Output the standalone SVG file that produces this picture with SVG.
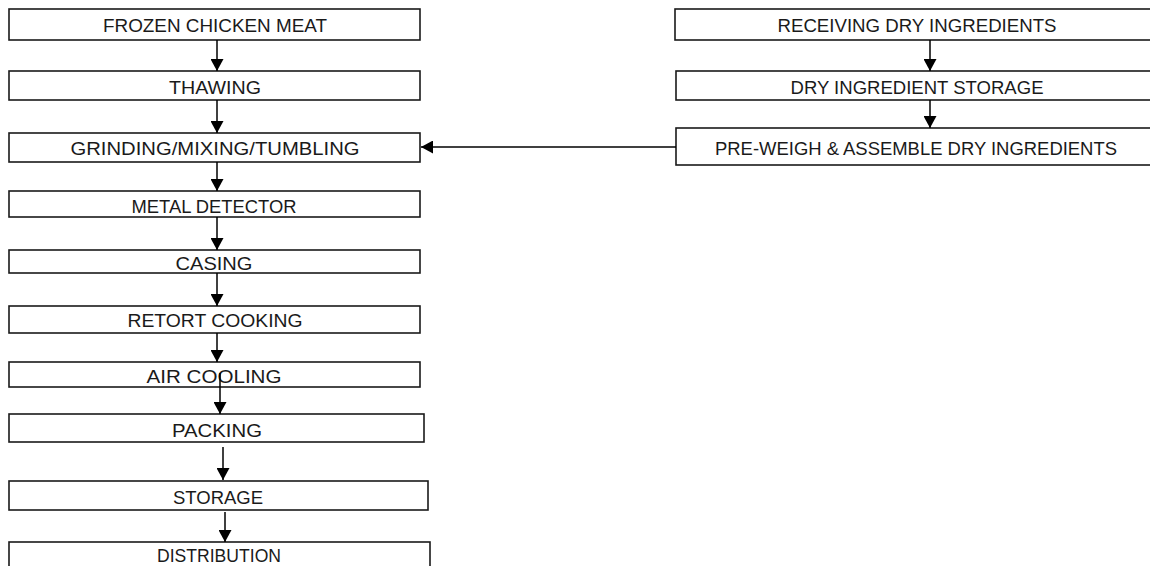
<svg xmlns="http://www.w3.org/2000/svg" width="1150" height="566" viewBox="0 0 1150 566">
<style>
  .box { fill: #ffffff; stroke: #1a1a1a; stroke-width: 1.6; }
  .lbl { font-family: "Liberation Sans", Arial, sans-serif; font-size: 17.5px; fill: #1a1a1a; text-anchor: middle; }
  .conn { stroke: #000000; stroke-width: 1.5; fill: none; marker-end: url(#arrow); }
</style>
<defs>
  <marker id="arrow" markerUnits="userSpaceOnUse" markerWidth="13" markerHeight="13" refX="12" refY="6.5" orient="auto">
    <path d="M0,0 L12,6.5 L0,13 z" fill="#000000"/>
  </marker>
</defs>
<rect width="1150" height="566" fill="#ffffff"/>

<g id="frozen-chicken-meat">
  <rect class="box" x="9" y="9" width="411" height="31"/>
  <text class="lbl" x="215" y="32" textLength="224" lengthAdjust="spacingAndGlyphs">FROZEN CHICKEN MEAT</text>
</g>
<g id="thawing">
  <rect class="box" x="9" y="71" width="411" height="29"/>
  <text class="lbl" x="215" y="94" textLength="92" lengthAdjust="spacingAndGlyphs">THAWING</text>
</g>
<g id="grinding">
  <rect class="box" x="9" y="133" width="411" height="29"/>
  <text class="lbl" x="215" y="155" textLength="289" lengthAdjust="spacingAndGlyphs">GRINDING/MIXING/TUMBLING</text>
</g>
<g id="metal-detector">
  <rect class="box" x="9" y="191" width="411" height="26"/>
  <text class="lbl" x="214" y="213" textLength="165" lengthAdjust="spacingAndGlyphs">METAL DETECTOR</text>
</g>
<g id="casing">
  <rect class="box" x="9" y="250" width="411" height="23"/>
  <text class="lbl" x="214" y="270" textLength="77" lengthAdjust="spacingAndGlyphs">CASING</text>
</g>
<g id="retort-cooking">
  <rect class="box" x="9" y="306" width="411" height="27"/>
  <text class="lbl" x="215" y="327" textLength="175" lengthAdjust="spacingAndGlyphs">RETORT COOKING</text>
</g>
<g id="air-cooling">
  <rect class="box" x="9" y="362" width="411" height="25"/>
  <text class="lbl" x="214" y="383" textLength="135" lengthAdjust="spacingAndGlyphs">AIR COOLING</text>
</g>
<g id="packing">
  <rect class="box" x="9" y="414" width="415" height="28"/>
  <text class="lbl" x="217" y="437" textLength="90" lengthAdjust="spacingAndGlyphs">PACKING</text>
</g>
<g id="storage">
  <rect class="box" x="9" y="481" width="419" height="29"/>
  <text class="lbl" x="218" y="504" textLength="90" lengthAdjust="spacingAndGlyphs">STORAGE</text>
</g>
<g id="distribution">
  <rect class="box" x="9" y="542" width="421" height="32"/>
  <text class="lbl" x="219" y="562" textLength="124" lengthAdjust="spacingAndGlyphs">DISTRIBUTION</text>
</g>

<g id="receiving-dry-ingredients">
  <rect class="box" x="675" y="9" width="484" height="31"/>
  <text class="lbl" x="917" y="32" textLength="279" lengthAdjust="spacingAndGlyphs">RECEIVING DRY INGREDIENTS</text>
</g>
<g id="dry-ingredient-storage">
  <rect class="box" x="676" y="71" width="484" height="29"/>
  <text class="lbl" x="917" y="94" textLength="253" lengthAdjust="spacingAndGlyphs">DRY INGREDIENT STORAGE</text>
</g>
<g id="pre-weigh">
  <rect class="box" x="676" y="128" width="484" height="37"/>
  <text class="lbl" x="916" y="155" textLength="402" lengthAdjust="spacingAndGlyphs">PRE-WEIGH &amp; ASSEMBLE DRY INGREDIENTS</text>
</g>

<g id="connectors">
  <line class="conn" x1="217" y1="40" x2="217" y2="71"/>
  <line class="conn" x1="217" y1="100" x2="217" y2="133"/>
  <line class="conn" x1="217" y1="162" x2="217" y2="191"/>
  <line class="conn" x1="217" y1="217" x2="217" y2="250"/>
  <line class="conn" x1="217" y1="273" x2="217" y2="306"/>
  <line class="conn" x1="217" y1="333" x2="217" y2="362"/>
  <line class="conn" x1="220" y1="373" x2="220" y2="414"/>
  <line class="conn" x1="223" y1="447" x2="223" y2="480"/>
  <line class="conn" x1="225" y1="512" x2="225" y2="542"/>
  <line class="conn" x1="930" y1="40" x2="930" y2="71"/>
  <line class="conn" x1="930" y1="100" x2="930" y2="128"/>
  <line class="conn" x1="676" y1="147" x2="421" y2="147"/>
</g>
</svg>
